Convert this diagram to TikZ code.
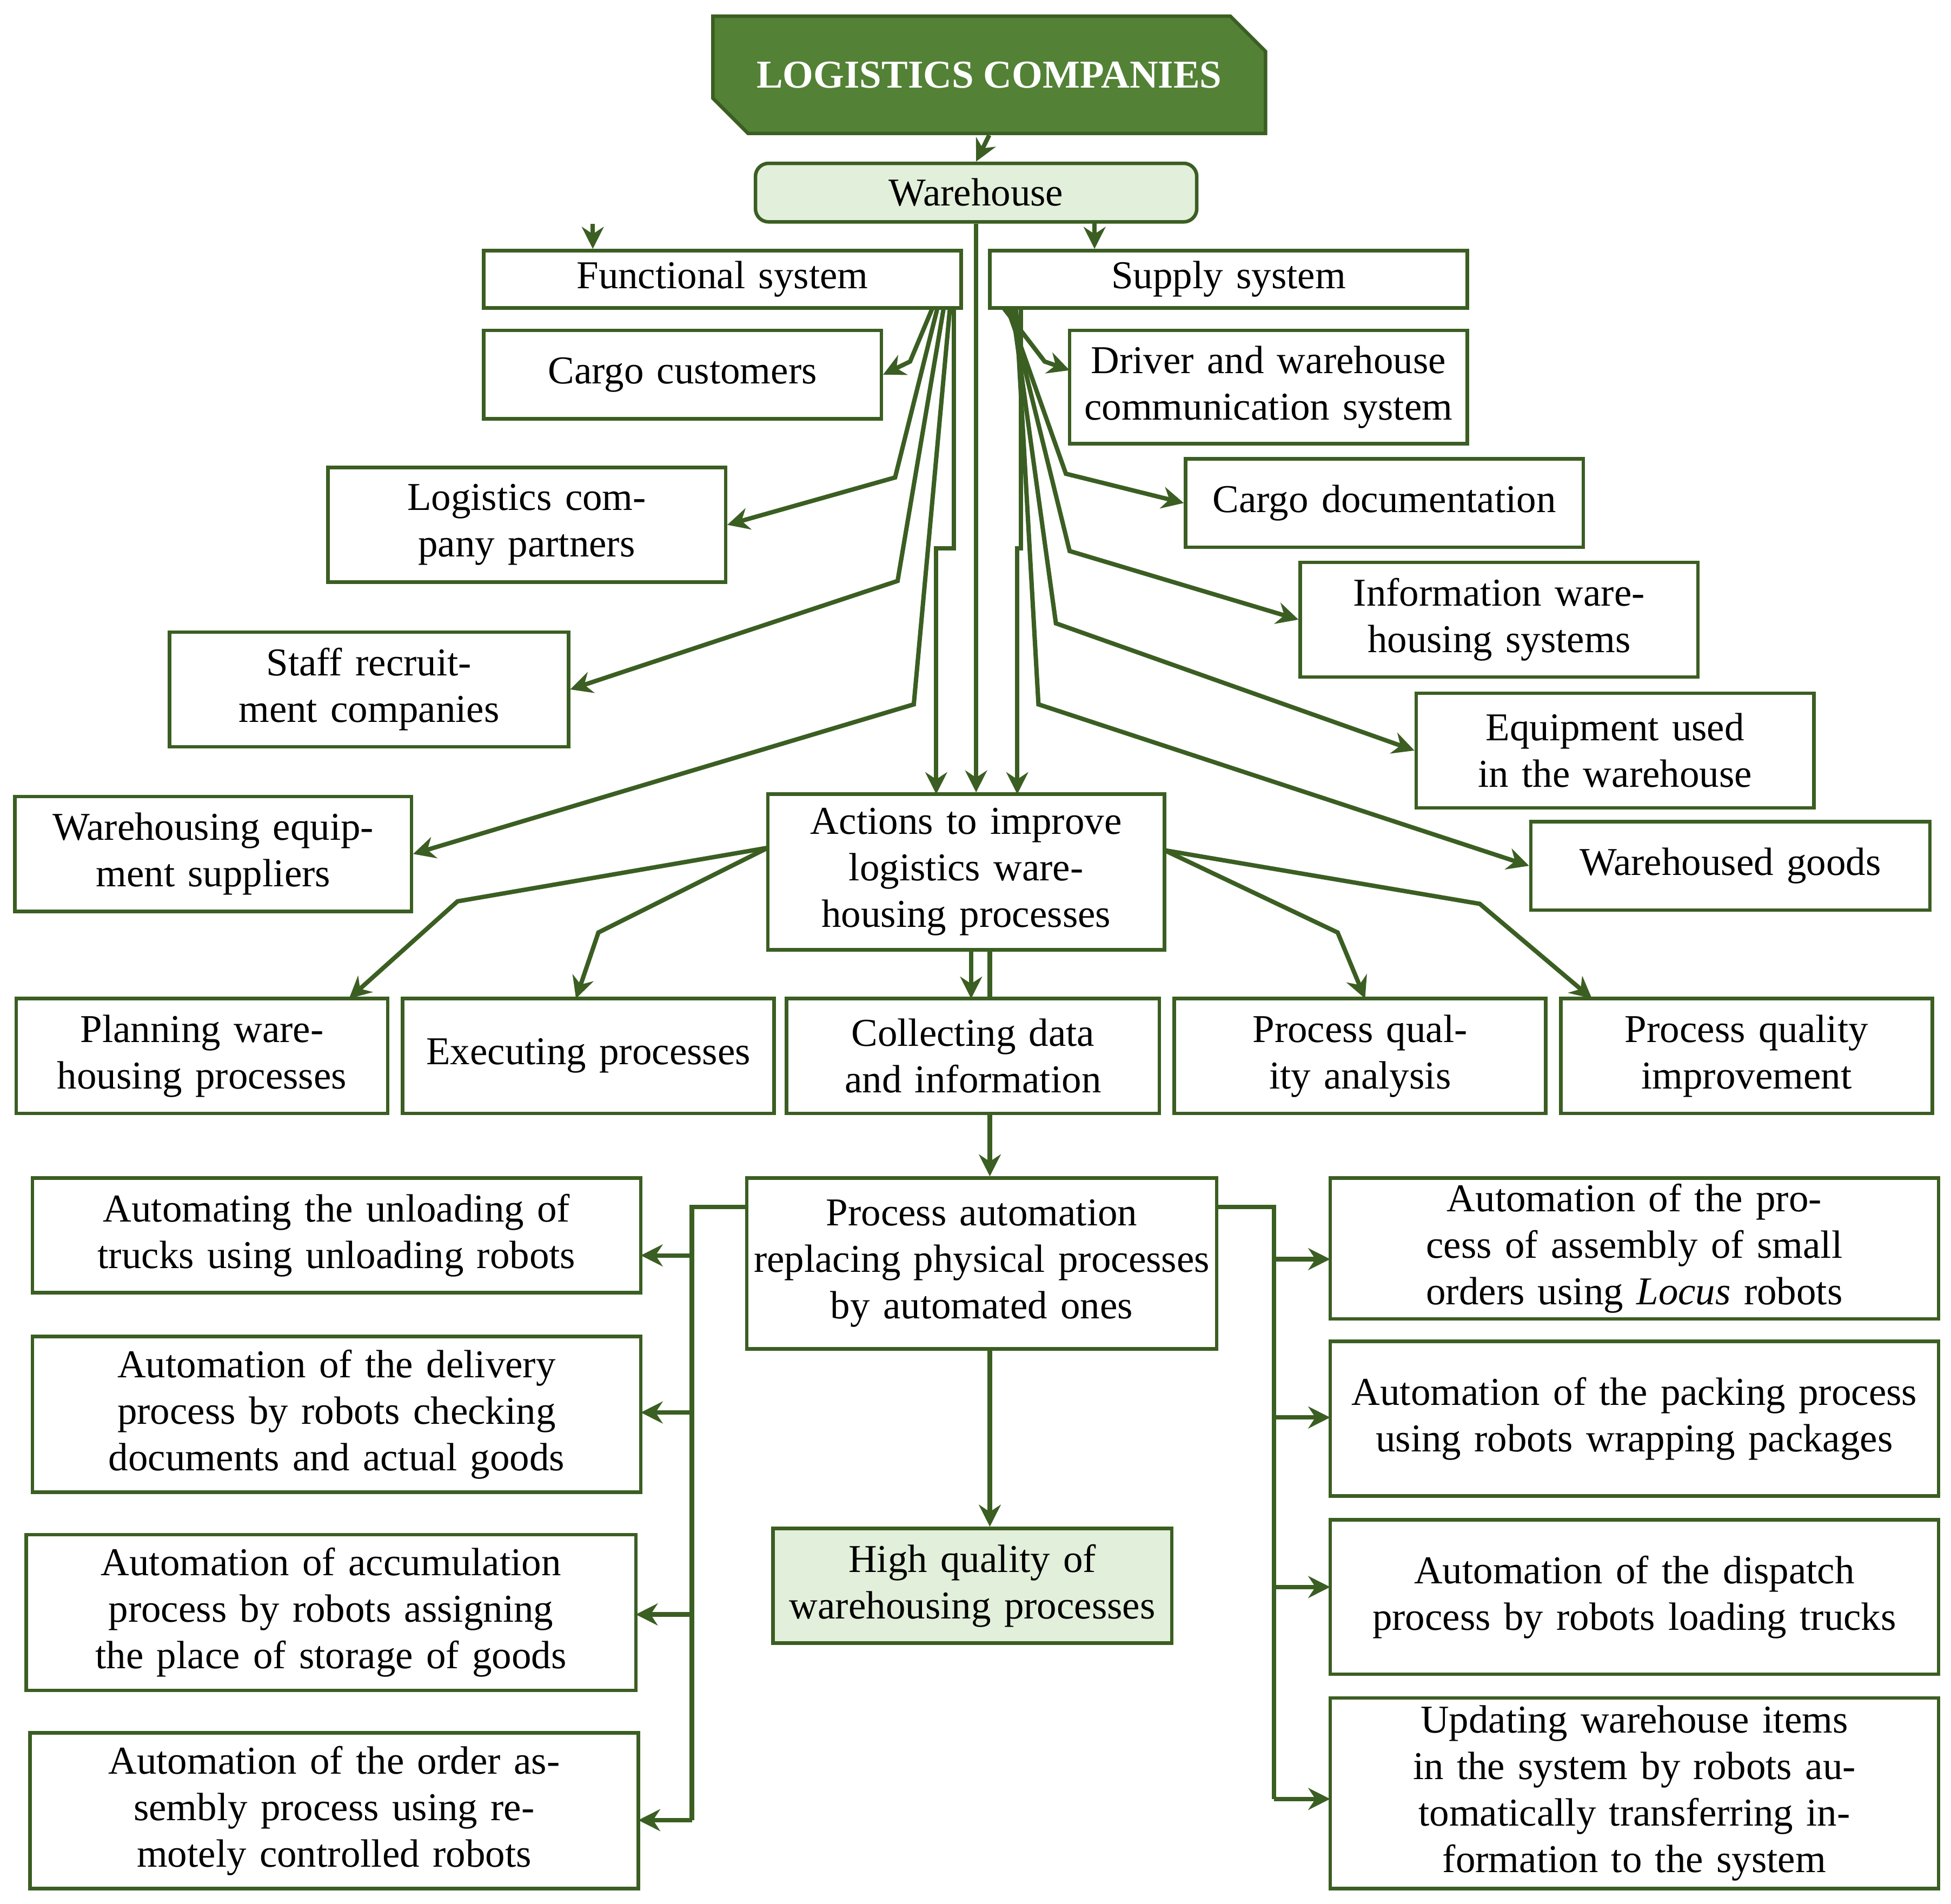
\documentclass[tikz,border=0pt]{standalone}
\usepackage{fontspec}
\setmainfont{Liberation Serif}
\usetikzlibrary{shapes.misc,arrows.meta}
\definecolor{dg}{HTML}{538135}
\definecolor{lg}{HTML}{E2EFDA}
\definecolor{ln}{HTML}{3B5E22}
\newcommand\bx[7][box]{%
  \node[#1,minimum width={(#5-#3)*0.01cm},minimum height={(#6-#4)*0.01cm},
        text width={(#5-#3-8)*0.01cm}] (#2) at ({(#3+#5)/2},{(#4+#6)/2}) {#7};}
\begin{document}
\begin{tikzpicture}[x=0.01cm,y=-0.01cm,
  font=\fontsize{9}{10.6}\selectfont,
  box/.style={draw=ln,line width=0.8pt,fill=white,align=center,inner sep=0pt},
  gbox/.style={box,fill=lg},
  rbox/.style={gbox,rounded corners=3pt},
  top/.style={chamfered rectangle,chamfered rectangle corners={north east,south west},
    chamfered rectangle xsep=6pt,chamfered rectangle ysep=5pt,draw=ln,line width=0.8pt,fill=dg,
    text=white,font=\fontsize{9}{10.6}\selectfont\bfseries,align=center,inner sep=0pt},
  arr/.style={draw=ln,line width=1pt,-{Stealth[length=5pt,width=5pt]}},
  ln/.style={draw=ln,line width=1pt}]
\useasboundingbox (0,0) rectangle (1565,1527);
\node[top,minimum width=4.43cm,minimum height=0.94cm] (lc) at (793.5,60) {LOGISTICS COMPANIES};
\bx[rbox]{wh}{606}{131}{960}{178}{Warehouse}
\bx{fs}{388}{201}{771}{247}{Functional system}
\bx{ss}{794}{201}{1177}{247}{Supply system}
\bx{cc}{388}{265}{707}{336}{Cargo customers}
\bx{dw}{858}{265}{1177}{356}{Driver and warehouse communication system}
\bx{lp}{263}{375}{582}{467}{Logistics company partners}
\bx{cd}{951}{368}{1270}{439}{Cargo documentation}
\bx{sr}{136}{507}{456}{599}{Staff recruitment companies}
\bx{iw}{1043}{451}{1362}{543}{Information warehousing systems}
\bx{eu}{1136}{556}{1455}{648}{Equipment used in the warehouse}
\bx{es}{12}{639}{330}{731}{Warehousing equipment suppliers}
\bx{wg}{1228}{659}{1548}{730}{Warehoused goods}
\bx{ac}{616}{637}{934}{762}{Actions to improve logistics warehousing processes}
\bx{pl}{13}{801}{311}{893}{Planning warehousing processes}
\bx{ex}{323}{801}{621}{893}{Executing processes}
\bx{co}{631}{801}{930}{893}{Collecting data and information}
\bx{pa}{942}{801}{1240}{893}{Process quality analysis}
\bx{pi}{1252}{801}{1550}{893}{Process quality improvement}
\bx{au}{599}{945}{976}{1082}{Process automation replacing physical processes by automated ones}
\bx[gbox]{hq}{620}{1226}{940}{1318}{High quality of warehousing processes}
\bx{l1}{26}{945}{514}{1037}{Automating the unloading of trucks using unloading robots}
\bx{l2}{26}{1072}{514}{1197}{Automation of the delivery process by robots checking documents and actual goods}
\bx{l3}{21}{1231}{510}{1356}{Automation of accumulation process by robots assigning the place of storage of goods}
\bx{l4}{24}{1390}{512}{1515}{Automation of the order assembly process using remotely controlled robots}
\bx{r1}{1067}{945}{1555}{1058}{Automation of the process of assembly of small orders using \textit{Locus} robots}
\bx{r2}{1067}{1076}{1555}{1200}{Automation of the packing process using robots wrapping packages}
\bx{r3}{1067}{1219}{1555}{1343}{Automation of the dispatch process by robots loading trucks}
\bx{r4}{1067}{1362}{1555}{1515}{Updating warehouse items in the system by robots automatically transferring information to the system}
% top connectors
\draw[arr] (lc.south) -- (wh.north);
\draw[arr] (wh.south -| fs.north) ++(-104,0) coordinate (w1) -- (w1 |- fs.north);
\draw[arr] (878,178) coordinate (w2) -- (w2 |- ss.north);
\draw[arr] (wh.south) -- (wh.south |- ac.north);
% functional fan
\coordinate (f0) at (748,247); \coordinate (f1) at (752,247); \coordinate (f2) at (757,247);
\coordinate (f3) at (762,247); \coordinate (f4) at (765,247);
\draw[arr] (f0) -- (730,290) -- (cc.east);
\draw[arr] (f1) -- (718,383) -- (lp.east);
\draw[arr] (f2) -- (720,466) -- (sr.east);
\draw[arr] (f3) -- (733,565) -- (es.east);
\draw[arr] (f4) -- (765,440) -- (751,440) -- (751,637);
% supply fan
\coordinate (s0) at (805,247); \coordinate (s1) at (808,247); \coordinate (s2) at (810,247);
\coordinate (s3) at (812,247); \coordinate (s4) at (815,247); \coordinate (s5) at (819,247);
\draw[arr] (s0) -- (838,290) -- (858,297);
\draw[arr] (s1) -- (855,380) -- (cd.west);
\draw[arr] (s2) -- (858,442) -- (iw.west);
\draw[arr] (s3) -- (847,500) -- (eu.west);
\draw[arr] (s4) -- (833,565) -- (wg.west);
\draw[arr] (s5) -- (819,440) -- (816,440) -- (816,637);
% actions
\draw[arr] (616,680) -- (367,723) -- (280,801);
\draw[arr] (616,680) -- (480,748) -- (462,801);
\draw[arr] (779,762) -- (779,801);
\draw[ln] (794,762) -- (794,801);
\draw[arr] (934,682) -- (1073,748) -- (1095,801);
\draw[arr] (934,682) -- (1187,725) -- (1277,801);
\draw[arr] (794,893) -- (au.north -| 794,0);
\draw[arr] (794,1082) -- (hq.north -| 794,0);
% left bus
\draw[ln] (599,968) -- (555,968) -- (555,1460);
\draw[arr] (555,1007) -- (514,1007);
\draw[arr] (555,1133) -- (514,1133);
\draw[arr] (555,1295) -- (510,1295);
\draw[arr] (555,1460) -- (512,1460);
% right bus
\draw[ln] (976,968) -- (1022,968) -- (1022,1443);
\draw[arr] (1022,1010) -- (1067,1010);
\draw[arr] (1022,1137) -- (1067,1137);
\draw[arr] (1022,1273) -- (1067,1273);
\draw[arr] (1022,1443) -- (1067,1443);
\end{tikzpicture}
\end{document}
